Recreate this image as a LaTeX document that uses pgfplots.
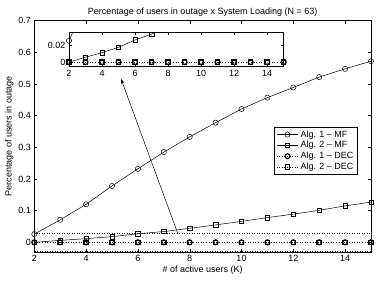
\documentclass[border=0pt]{standalone}
\usepackage{pgfplots}
\usepackage{pgfplotstable}
\pgfplotsset{compat=1.18}
\usepackage{fontspec}
\setmainfont{Liberation Sans}
\usetikzlibrary{arrows.meta}

\pgfplotstableread{
x a1mf a2mf dec
2  0.026 0.000 0
3  0.071 0.006 0
4  0.120 0.0115 0
5  0.178 0.018 0
6  0.232 0.027 0
7  0.285 0.034 0
8  0.333 0.044 0
9  0.378 0.055 0
10 0.421 0.066 0
11 0.457 0.078 0
12 0.489 0.089 0
13 0.522 0.101 0
14 0.548 0.115 0
15 0.572 0.127 0
}\datatable

\pgfplotsset{
  mfone/.style={black, line width=0.5pt, mark=o, mark size=2.6pt, mark options={solid, fill=white, line width=0.5pt}},
  mftwo/.style={black, line width=0.5pt, mark=square, mark size=2.2pt, mark options={solid, fill=white, line width=0.5pt}},
  decone/.style={black, dotted, line width=0.6pt, mark=o, mark size=2.4pt, mark options={solid, draw=black, fill=white, line width=1.3pt}},
  dectwo/.style={black, dotted, line width=0.6pt, mark=square, mark size=2.2pt, mark options={solid, draw=black, fill=white, line width=1.1pt}},
}

\begin{document}
\begin{tikzpicture}[font=\fontsize{9}{10.5}\selectfont]
\useasboundingbox (0,0) rectangle (378pt,284pt);
\begin{axis}[
  at={(34.3pt,32.2pt)}, anchor=south west,
  scale only axis, width=336.7pt, height=231.1pt,
  xmin=2, xmax=15, ymin=-0.03, ymax=0.7,
  xtick={2,4,6,8,10,12,14},
  ytick={0,0.1,0.2,0.3,0.4,0.5,0.6,0.7},
  yticklabels={0,0.1,0.2,0.3,0.4,0.5,0.6,0.7},
  /pgf/number format/assume math mode=true,
  tick align=inside, major tick length=3pt,
  every tick/.style={black, line width=0.4pt},
  axis line style={line width=0.5pt},
  title={Percentage of users in outage x System Loading (N = 63)},
  title style={yshift=-5pt},
  xlabel={\# of active users (K)},
  ylabel={Percentage of users in outage},
  xlabel style={yshift=3pt},
  ylabel style={yshift=-2pt},
  legend style={at={(0.9605,0.5387)}, anchor=north east, draw=black, line width=0.5pt,
    font=\fontsize{9}{10.5}\selectfont, row sep=-1.2pt, inner xsep=2pt, inner ysep=1pt, cells={anchor=west}},
  legend image code/.code={\draw[mark repeat=2,mark phase=2,#1] plot coordinates {(0cm,0cm)(0.38cm,0cm)(0.76cm,0cm)};},
]
\addplot[mfone] table[x=x,y=a1mf]{\datatable};
\addlegendentry{Alg. 1 -- MF}
\addplot[mftwo] table[x=x,y=a2mf]{\datatable};
\addlegendentry{Alg. 2 -- MF}
\addplot[dectwo, forget plot] table[x=x,y=dec]{\datatable};
\addplot[decone] table[x=x,y=dec]{\datatable};
\addlegendentry{Alg. 1 -- DEC}
\addlegendimage{dectwo}
\addlegendentry{Alg. 2 -- DEC}
\draw[black, dotted, line width=0.5pt] (axis cs:2,-0.027) rectangle (axis cs:15,0.028);
\draw[black, line width=0.5pt, -{Stealth[length=5pt,width=3.5pt]}] (axis cs:7.54,0.028) -- (axis cs:5.35,0.516);
\end{axis}
\begin{axis}[
  at={(69pt,217.3pt)}, anchor=south west,
  scale only axis, width=214.7pt, height=34.4pt,
  xmin=2, xmax=15, ymin=-0.0055, ymax=0.0362,
  xtick={2,4,6,8,10,12,14},
  ytick={0,0.02}, yticklabels={0,0.02},
  scaled y ticks=false,
  /pgf/number format/assume math mode=true,
  tick align=inside, major tick length=3pt,
  every tick/.style={black, line width=0.4pt},
  axis line style={line width=0.5pt},
  axis background/.style={fill=white},
]
\addplot[black, line width=0.5pt] table[x=x,y=a1mf]{\datatable};
\addplot[black, line width=0.5pt] table[x=x,y=a2mf]{\datatable};
\addplot[black, dotted, line width=0.6pt] table[x=x,y=dec]{\datatable};
\addplot[mfone, only marks, restrict y to domain=-0.01:0.037] table[x=x,y=a1mf]{\datatable};
\addplot[mftwo, only marks, restrict y to domain=-0.01:0.037] table[x=x,y=a2mf]{\datatable};
\addplot[dectwo, only marks] table[x=x,y=dec]{\datatable};
\addplot[decone, only marks] table[x=x,y=dec]{\datatable};
\end{axis}
\end{tikzpicture}
\end{document}
